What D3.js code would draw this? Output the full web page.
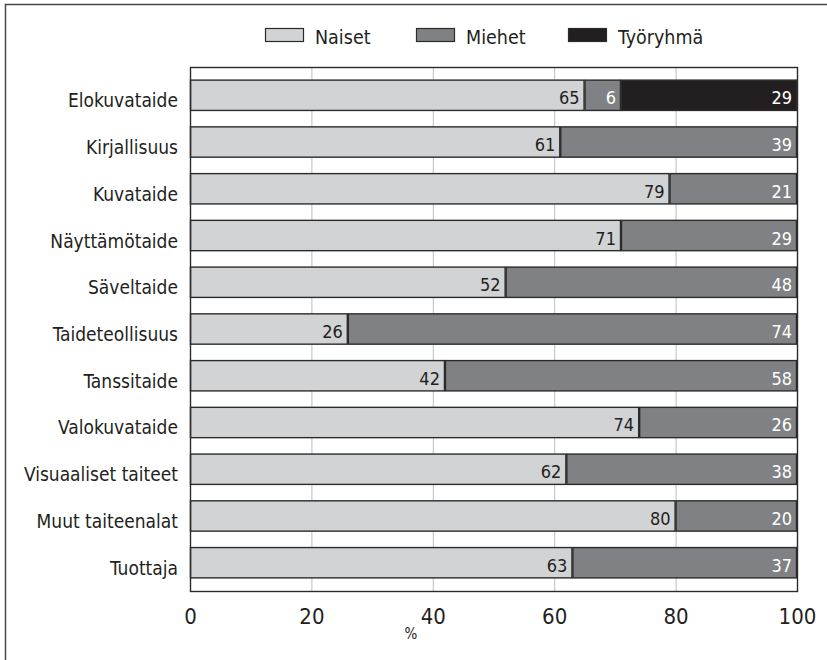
<!DOCTYPE html>
<html><head><meta charset="utf-8">
<script src="https://cdn.jsdelivr.net/npm/d3@7"></script>
<style>body{margin:0;background:#fff}svg{display:block}text{font-family:"Liberation Sans Narrow","Arial Narrow","DejaVu Sans Condensed",sans-serif}</style>
</head><body><svg id="c" width="827" height="660"></svg>
<script>
const categories = ["Elokuvataide","Kirjallisuus","Kuvataide","Näyttämötaide","Säveltaide","Taideteollisuus","Tanssitaide","Valokuvataide","Visuaaliset taiteet","Muut taiteenalat","Tuottaja"];
const naiset = [65,61,79,71,52,26,42,74,62,80,63];
const miehet = [6,39,21,29,48,74,58,26,38,20,37];
const tyoryhma = [29,0,0,0,0,0,0,0,0,0,0];
const seriesNames = ["Naiset","Miehet","Työryhmä"];
const tickValues = [0,20,40,60,80,100];
const axisTitle = "%";

const colors = ["#d2d3d5","#808184","#231f20"];
const textColors = ["#231f20","#ffffff","#ffffff"];
const svg = d3.select("#c");
const L=190,R=797,T=67,B=591;
const x = d3.scaleLinear().domain([0,100]).range([L,R]);
const y = d3.scaleBand().domain(categories).range([T,B]).paddingInner(0.33).paddingOuter(0.27);

// outer frame
svg.append("path").attr("d","M5.5,660 V4.5 H827").attr("fill","none").attr("stroke","#4a4a4a").attr("stroke-width",1.5);

// grid
svg.append("g").selectAll("line").data(tickValues.filter(d=>d>0&&d<100)).join("line")
  .attr("x1",d=>x(d)+0.5).attr("x2",d=>x(d)+0.5).attr("y1",T).attr("y2",B)
  .attr("stroke","#bdbdbd").attr("stroke-width",1);

// stacked data
const data = categories.map((c,i)=>({cat:c, vals:[naiset[i],miehet[i],tyoryhma[i]]}));
const g = svg.append("g");
data.forEach(d=>{
  let acc=0;
  d.vals.forEach((v,k)=>{
    if(v<=0) return;
    const x0=x(acc), x1=x(acc+v);
    acc+=v;
    g.append("rect").attr("x",x0+0.5).attr("y",y(d.cat)+0.5).attr("width",x1-x0-1).attr("height",y.bandwidth()-1)
      .attr("fill",colors[k]).attr("stroke","#2b2b2b").attr("stroke-width",1.4);
    g.append("text").attr("x",x1-5).attr("y",y(d.cat)+y.bandwidth()/2+9).attr("text-anchor","end")
      .attr("font-size",18).attr("fill",textColors[k]).text(v);
  });
});

// plot box
svg.append("rect").attr("x",L+0.5).attr("y",T+0.5).attr("width",R-L).attr("height",B-T)
  .attr("fill","none").attr("stroke","#2b2b2b").attr("stroke-width",1.4);

// category labels
svg.append("g").selectAll("text").data(categories).join("text")
  .attr("x",178).attr("y",d=>y(d)+y.bandwidth()/2+12).attr("text-anchor","end")
  .attr("font-size",19).attr("fill","#231f20").text(d=>d);

// x axis ticks
const ax = svg.append("g").attr("transform",`translate(0,${B})`)
  .call(d3.axisBottom(x).tickValues(tickValues).tickSize(0).tickPadding(18).tickFormat(d3.format("d")));
ax.select(".domain").remove();
ax.selectAll("text").attr("font-size",22).attr("fill","#231f20").attr("font-family",null)
  .attr("dy",null).attr("y",33);

svg.append("text").attr("x",411).attr("y",639).attr("text-anchor","middle").attr("font-size",15).attr("fill","#231f20").text(axisTitle);

// legend
const legX=[265,416,568];
const lg = svg.append("g");
seriesNames.forEach((n,k)=>{
  lg.append("rect").attr("x",legX[k]+0.5).attr("y",28.5).attr("width",38).attr("height",13)
    .attr("fill",colors[k]).attr("stroke","#2b2b2b").attr("stroke-width",1.2);
  lg.append("text").attr("x",legX[k]+50).attr("y",44).attr("font-size",19.5).attr("fill","#231f20").text(n);
});
</script></body></html>
